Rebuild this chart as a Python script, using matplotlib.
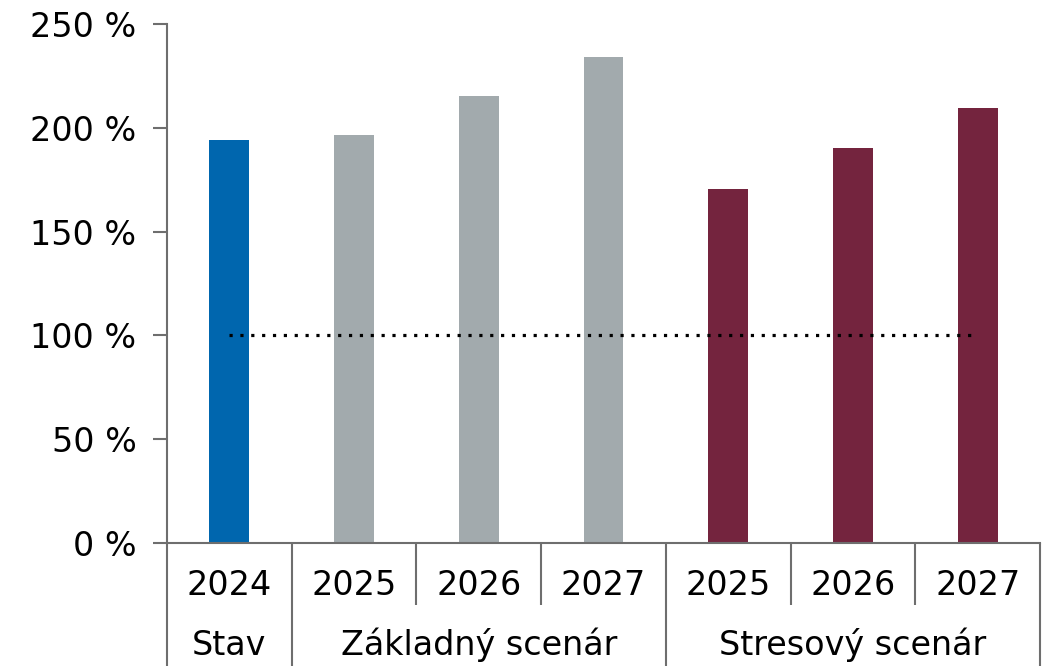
import matplotlib.pyplot as plt
from matplotlib.transforms import blended_transform_factory

# data
years = ["2024", "2025", "2026", "2027", "2025", "2026", "2027"]
groups = ["Stav", "Základný scenár", "Stresový scenár"]
group_sizes = [1, 3, 3]
values = [194, 196.5, 215.3, 234, 170.5, 190.3, 209.5]
colors = ["#0066AE", "#A2AAAD", "#A2AAAD", "#A2AAAD", "#74243E", "#74243E", "#74243E"]
limit = 100

fs = 24

fig = plt.figure(figsize=(10.48, 6.66), dpi=100)
ax = fig.add_axes([0.1594, 0.1847, 0.8330, 0.7793])

x = list(range(len(values)))
ax.bar(x, values, width=0.32, color=colors, zorder=2)
ax.plot([x[0], x[-1]], [limit, limit], color="black", linestyle=(0, (1, 2.4)),
        linewidth=2.3, zorder=3)

ax.set_xlim(-0.5, len(values) - 0.5)
ax.set_ylim(0, 250)
ax.set_yticks([0, 50, 100, 150, 200, 250])
ax.set_yticklabels([f"{v} %" for v in [0, 50, 100, 150, 200, 250]], fontsize=fs)
ax.set_xticks([])

spine_col = "#6E6E6E"
for s in ["top", "right"]:
    ax.spines[s].set_visible(False)
for s in ["left", "bottom"]:
    ax.spines[s].set_color(spine_col)
    ax.spines[s].set_linewidth(1.5)
ax.tick_params(axis="y", length=10, width=1.5, color=spine_col, pad=12)

tr = blended_transform_factory(ax.transData, ax.transAxes)

# year labels
for i, yr in enumerate(years):
    ax.text(i, -0.081, yr, transform=tr, ha="center", va="center", fontsize=fs)

# separators
group_edges = [-0.5]
for n in group_sizes:
    group_edges.append(group_edges[-1] + n)
for i in range(len(values) + 1):
    xe = i - 0.5
    y_end = -0.237 if xe in group_edges else -0.119
    ax.plot([xe, xe], [0, y_end], transform=tr, color=spine_col, lw=1.5,
            clip_on=False, solid_capstyle="butt")

# group labels
for g, a, b in zip(groups, group_edges[:-1], group_edges[1:]):
    ax.text((a + b) / 2, -0.197, g, transform=tr, ha="center", va="center", fontsize=fs)

fig.savefig("out.png", dpi=100)
